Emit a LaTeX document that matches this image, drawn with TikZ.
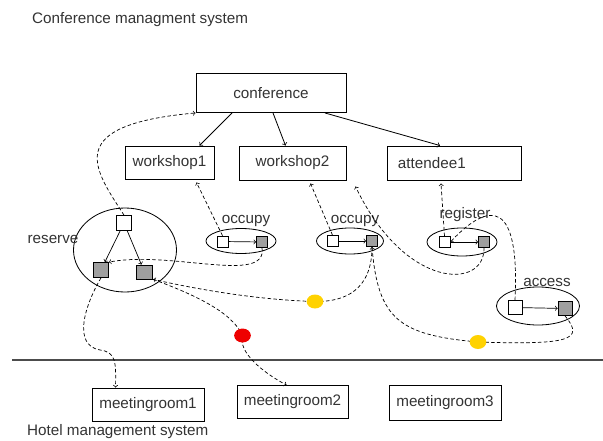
\documentclass[tikz,border=0pt]{standalone}
\usepackage{fontspec}
\setmainfont{Liberation Sans}
\usetikzlibrary{shapes.geometric,calc}

\begin{document}
\begin{tikzpicture}[
        x=0.03cm, y=-0.03cm,
        every node/.style={font=\fontsize{13}{15}\selectfont, text=black!80},
        box/.style={rectangle, draw, line width=0.8pt, inner sep=2pt},
        usecase/.style={ellipse, draw, line width=0.7pt, inner sep=0pt},
        port/.style={rectangle, draw, line width=0.6pt, fill=white, minimum size=0.33cm, inner sep=0pt},
        gport/.style={port, fill=gray!75},
        link/.style={->, densely dashed, line width=0.6pt},
        dot/.style={ellipse, inner sep=0pt, minimum width=0.5cm, minimum height=0.42cm}
    ]
        \useasboundingbox (0,0) rectangle (603,441);

        % 系统名称
        \node[anchor=west] (title) at (28,20) {Conference managment system};
        \node[anchor=west] (hotel) at (23,432) {Hotel management system};

        % 会议组件
        \node[box, minimum width=4.5cm, minimum height=1.17cm] (conf) at (271,93) {conference};
        \node[box, minimum width=2.67cm, minimum height=0.99cm] (ws1) at (169.5,162.5) {workshop1};
        \node[box, minimum width=3.21cm, minimum height=1.02cm] (ws2) at (292.5,163) {workshop2};
        \node[box, minimum height=1.02cm, text width=3.36cm, align=left, inner xsep=0.33cm] (att1) at (454,163) {attendee1};

        \draw[->, line width=0.7pt] ($(conf.south)+(-39,0)$) -- ($(ws1.north)+(30,0)$);
        \draw[->, line width=0.7pt] ($(conf.south)+(2,0)$) -- ($(ws2.north)+(-7,0)$);
        \draw[->, line width=0.7pt] ($(conf.south)+(54,0)$) -- ($(att1.north)+(-14,0)$);

        % 用例
        \node[usecase, minimum width=3.09cm, minimum height=2.52cm] (res) at (125,250) {};
        \node[usecase, minimum width=2.1cm, minimum height=0.75cm] (occA) at (241,241) {};
        \node[usecase, minimum width=2.01cm, minimum height=0.78cm] (occB) at (350,241) {};
        \node[usecase, minimum width=2.1cm, minimum height=0.84cm] (reg) at (462,242) {};
        \node[usecase, minimum width=2.49cm, minimum height=1.14cm] (acc) at (538,306) {};

        \node (lblRes) at (53,239) {reserve};
        \node (lblOccA) at (246,221) {occupy};
        \node (lblOccB) at (355,221) {occupy};
        \node (lblReg) at (465,215) {register};
        \node (lblAcc) at (547,282) {access};

        % 端口
        \node[port, minimum size=0.45cm] (rw) at (124,223) {};
        \node[gport, minimum size=0.45cm] (rgL) at (101,270) {};
        \node[gport, minimum width=0.5cm, minimum height=0.42cm] (rgR) at (144.5,272) {};
        \node[port] (oAw) at (222.5,241.5) {};
        \node[gport] (oAg) at (262,242) {};
        \node[port] (oBw) at (332.5,241) {};
        \node[gport] (oBg) at (372,241) {};
        \node[port] (regw) at (444.5,242) {};
        \node[gport] (regg) at (484,242) {};
        \node[port, minimum size=0.42cm] (accw) at (515,307.5) {};
        \node[gport, minimum size=0.42cm] (accg) at (565,308.5) {};

        \draw[->, line width=0.6pt] (rw) -- (rgL);
        \draw[->, line width=0.6pt] (rw) -- (rgR);
        \draw[->, line width=0.6pt] (oAw) -- (oAg);
        \draw[->, line width=0.6pt] (oBw) -- (oBg);
        \draw[->, line width=0.6pt] (regw) -- (regg);
        \draw[->, line width=0.6pt] (accw) -- (accg);

        % 酒店组件
        \coordinate (sepW) at (12,360);
        \coordinate (sepE) at (603,360);
        \draw[line width=1pt, black!70] (sepW) -- (sepE);

        \node[box, minimum width=3.36cm, minimum height=0.99cm] (mr1) at (148,404.5) {meetingroom1};
        \node[box, minimum width=3.33cm, minimum height=0.99cm] (mr2) at (292.5,402) {meetingroom2};
        \node[box, minimum width=3.36cm, minimum height=1.05cm] (mr3) at (445,402.5) {meetingroom3};

        % 虚线连接
        \draw[link] (rw.north) .. controls (95,170) and (60,125) .. (conf.south west);
        \draw[link] (oAw.north) -- ($(ws1.south)+(27,3)$);
        \draw[link] (oBw.north) -- ($(ws2.south)+(18,3)$);
        \draw[link] (regw.north) -- ($(att1.south)+(-13,3)$);
        \draw[link] (regg.south) .. controls (485,290) and (405,290) .. ($(ws2.south east)+(9,6)$);
        \draw[link] (oAg.south) .. controls (268,285) and (170,250) .. (rgL.north east);
        \draw[link] (oBg.south) .. controls (372,290) and (345,302) .. (315,301.5) .. controls (260,300) and (200,290) .. (rgR.south east);
        \draw[link] (rgR.south east) .. controls (195,295) and (232,312) .. (242.5,335.5) .. controls (238,352) and (262,372) .. ($(mr2.north)+(-6,0)$);
        \draw[link] (rgL.south) .. controls (85,305) and (72,345) .. (100,350) .. controls (116,352) and (116,362) .. ($(mr1.north west)+(24,0)$);
        \draw[link] (accw.north) .. controls (520,200) and (490,200) .. (regw.east);
        \draw[link] (accg.south) .. controls (585,340) and (570,345) .. (478,342) .. controls (400,335) and (378,320) .. (oBg.south);

        % 约束点
        \node[dot, fill={rgb,255:red,255;green,210;blue,0}] (yel1) at (315,301.5) {};
        \node[dot, fill={rgb,255:red,255;green,210;blue,0}] (yel2) at (478,342) {};
        \node[dot, fill={rgb,255:red,238;green,0;blue,0}] (red1) at (242.5,335.5) {};
    \end{tikzpicture}
\end{document}
